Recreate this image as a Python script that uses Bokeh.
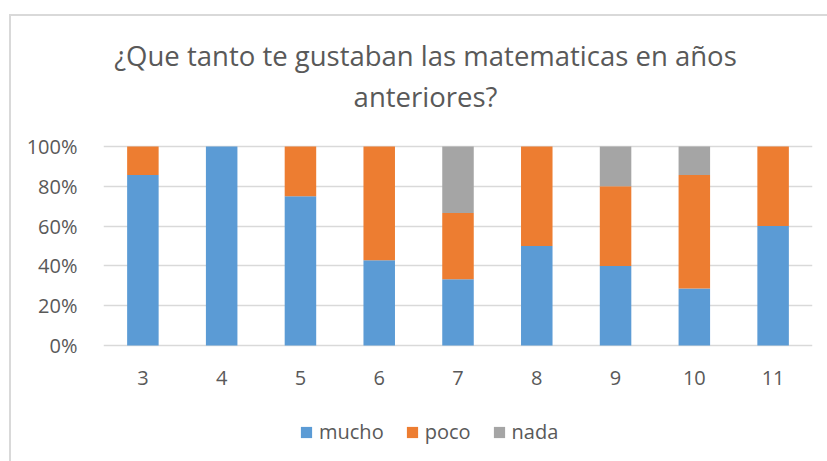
from bokeh.plotting import figure
from bokeh.models import Label, Legend, LegendItem, NumeralTickFormatter, FixedTicker, Range1d
from bokeh.embed import file_html
from bokeh.resources import INLINE

categories = ["3", "4", "5", "6", "7", "8", "9", "10", "11"]
mucho = [0.857, 1.0, 0.75, 0.429, 0.333, 0.5, 0.4, 0.286, 0.6]
poco = [0.143, 0.0, 0.25, 0.571, 0.333, 0.5, 0.4, 0.571, 0.4]
nada = [0.0, 0.0, 0.0, 0.0, 0.334, 0.0, 0.2, 0.143, 0.0]
series = ["mucho", "poco", "nada"]
colors = ["#5b9bd5", "#ed7d31", "#a5a5a5"]
title_lines = ["¿Que tanto te gustaban las matematicas en años", "anteriores?"]
y_ticks = [0, 0.2, 0.4, 0.6, 0.8, 1.0]

FONT = "Open Sans"
TXT = "#595959"

# frame covers title + legend area; 199 px per 100%
p = figure(x_range=categories, y_range=Range1d(-0.5829, 1.6533), frame_width=709, frame_height=445,
           output_backend="svg", toolbar_location=None, title=None,
           min_border_left=92, min_border_right=15, min_border_top=0, min_border_bottom=80)
p.styles = {"margin-left": "11px", "margin-top": "16px", "outline": "2px solid #d9d9d9"}

data = dict(cat=categories, mucho=mucho, poco=poco, nada=nada)
rs = p.vbar_stack(series, x="cat", width=0.4, color=colors, line_color=None, source=data)

p.outline_line_color = None
p.xgrid.grid_line_color = None
p.ygrid.grid_line_color = "#d9d9d9"
p.ygrid.grid_line_width = 1.5
p.yaxis.ticker = FixedTicker(ticks=y_ticks)
p.yaxis.formatter = NumeralTickFormatter(format="0%")
for ax in (p.xaxis[0], p.yaxis[0]):
    ax.axis_line_color = None
    ax.major_tick_line_color = None
    ax.minor_tick_line_color = None
    ax.major_label_text_font = FONT
    ax.major_label_text_font_size = "20px"
    ax.major_label_text_color = TXT
p.yaxis.major_label_standoff = 20
p.xaxis.major_label_standoff = 19
p.xaxis.fixed_location = 0
p.x_range.range_padding = 0

items = [LegendItem(label=s, renderers=[r]) for s, r in zip(series, rs)]
legend = Legend(items=items, orientation="horizontal", location=(196, 16),
                glyph_width=14, glyph_height=14, label_standoff=6, spacing=21,
                padding=0, margin=0, border_line_color=None, background_fill_alpha=0,
                label_text_font=FONT, label_text_font_size="20px", label_text_color=TXT)
p.add_layout(legend, "center")

for txt, yy in zip(title_lines, [406, 365]):
    p.add_layout(Label(x=322, y=yy, x_units="screen", y_units="screen", text=txt,
                       text_align="center", text_baseline="alphabetic",
                       text_font=FONT, text_font_size="27.5px", text_color=TXT))

open("out.html", "w").write(file_html(p, INLINE))
